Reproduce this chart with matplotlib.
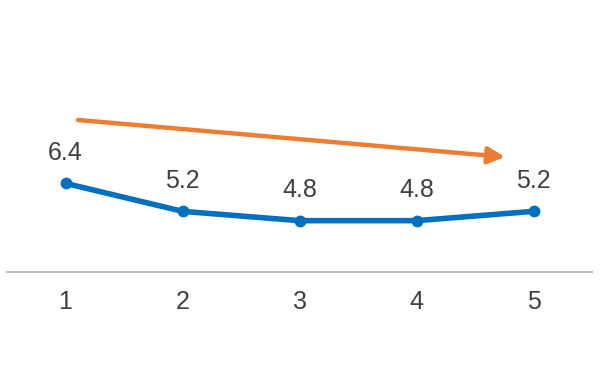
import matplotlib
matplotlib.use("Agg")
import matplotlib.pyplot as plt

categories = [1, 2, 3, 4, 5]
values = [6.4, 5.2, 4.8, 4.8, 5.2]
labels = ["6.4", "5.2", "4.8", "4.8", "5.2"]

plt.rcParams['font.family'] = ['Liberation Sans', 'DejaVu Sans']

fig = plt.figure(figsize=(6, 3.71), dpi=100)
ax = fig.add_axes([7/600, (371-272)/371, 585/600, 252/371])

ax.plot(categories, values, color='#0070C0', lw=4, marker='o', ms=7.5,
        solid_capstyle='round', zorder=3)
for x, y, t in zip(categories, values, labels):
    ax.annotate(t, (x, y), xytext=(0, 13.5), textcoords='offset points',
                ha='center', va='bottom', fontsize=18, color='#404040')

ax.annotate('', xy=(4.756, 7.53), xytext=(1.107, 9.115),
            arrowprops=dict(arrowstyle='-|>,head_length=1.0,head_width=0.5',
                            color='#ED7D31', lw=3.2, shrinkA=0, shrinkB=0))

ax.set_xlim(0.5, 5.5)
ax.set_ylim(2.6, 13.4)
ax.set_xticks(categories)
ax.set_xticklabels([str(c) for c in categories])
ax.set_yticks([])
for s in ['top', 'left', 'right']:
    ax.spines[s].set_visible(False)
ax.spines['bottom'].set_color('#BFBFBF')
ax.spines['bottom'].set_linewidth(1.5)
ax.tick_params(axis='x', length=0, pad=13, labelsize=18, labelcolor='#404040')

fig.savefig('out.png', dpi=100)
